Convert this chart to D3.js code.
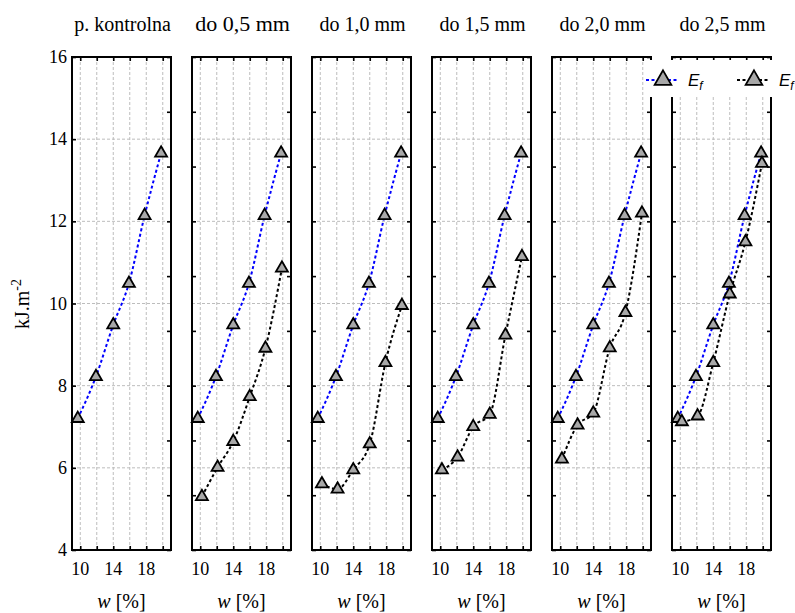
<!DOCTYPE html>
<html><head><meta charset="utf-8">
<script src="https://cdn.jsdelivr.net/npm/d3@7"></script>
</head><body style="margin:0">
<svg id="c" width="795" height="613" style="font-family:'Liberation Serif'"></svg>
<script>
const panelTitles = ["p. kontrolna","do 0,5 mm","do 1,0 mm","do 1,5 mm","do 2,0 mm","do 2,5 mm"];
const blueX = [9.7, 11.9, 14.0, 15.9, 17.8, 19.8];
const blueY = [7.2, 8.22, 9.48, 10.49, 12.14, 13.66];
const blackX = [10.2, 12.1, 14.0, 16.0, 17.9, 19.9];
const black05 = [5.30, 6.01, 6.64, 7.73, 8.91, 10.86];
const black10 = [5.61, 5.48, 5.95, 6.58, 8.56, 9.95];
const black15 = [5.95, 6.26, 7.00, 7.30, 9.23, 11.14];
const black20 = [6.21, 7.04, 7.33, 8.92, 9.78, 12.20];
const black25 = [7.12, 7.26, 8.56, 10.23, 11.50, 13.41];
const blackSeries = [null, black05, black10, black15, black20, black25];
const yTicks = [4, 6, 8, 10, 12, 14, 16];
const xTickLabels = [10, 14, 18];
const xGrid = [10, 12, 14, 16, 18, 20];
const legendLabels = ["E", "E"];

const svg = d3.select("#c");
const topY = 57, bottomY = 550, pw = 99, gap = 120, left0 = 72;
const y = d3.scaleLinear().domain([4, 16]).range([bottomY, topY]);
const y2 = d3.scaleLinear().domain([0, 9]).range([bottomY, topY]);
const serifStyle = sz => `font-family:'Liberation Serif' !important;font-size:${sz}px`;

function tri(g, cx, cy, s) {
  g.append("path").attr("transform", `translate(${cx},${cy})`)
    .attr("d", d3.symbol().type(d3.symbolTriangle).size(s)())
    .attr("fill", "#a8a8a8").attr("stroke", "#000").attr("stroke-width", 1.8);
}

panelTitles.forEach((title, i) => {
  const x0 = left0 + i * gap;
  const x = d3.scaleLinear().domain([9, 21]).range([x0, x0 + pw]);
  const g = svg.append("g");
  g.selectAll(".gx").data(xGrid).join("line")
    .attr("x1", d => x(d)).attr("x2", d => x(d)).attr("y1", topY).attr("y2", bottomY)
    .attr("stroke", "#bdbdbd").attr("stroke-width", 1).attr("stroke-dasharray", "3,2");
  g.selectAll(".gy").data(yTicks.slice(1, -1)).join("line")
    .attr("x1", x0).attr("x2", x0 + pw).attr("y1", d => y(d)).attr("y2", d => y(d))
    .attr("stroke", "#bdbdbd").attr("stroke-width", 1).attr("stroke-dasharray", "3,2");
  const bAx = g.append("g").attr("transform", `translate(0,${bottomY})`)
    .call(d3.axisTop(x).tickValues(xGrid).tickSize(4).tickFormat(""));
  const tAx = g.append("g").attr("transform", `translate(0,${topY})`)
    .call(d3.axisBottom(x).tickValues(xGrid).tickSize(4).tickFormat(""));
  const lAx = g.append("g").attr("transform", `translate(${x0},0)`)
    .call(i === 0 ? d3.axisRight(y).tickValues(yTicks).tickSize(4).tickFormat("")
                  : d3.axisRight(y2).ticks(9).tickSize(4).tickFormat(""));
  const rAx = g.append("g").attr("transform", `translate(${x0 + pw},0)`)
    .call(d3.axisLeft(y2).ticks(9).tickSize(4).tickFormat(""));
  [bAx, tAx, lAx, rAx].forEach(a => {
    a.select(".domain").remove();
    a.selectAll("line").attr("stroke", "#000").attr("stroke-width", 1.6);
  });
  g.append("rect").attr("x", x0).attr("y", topY).attr("width", pw).attr("height", bottomY - topY)
    .attr("fill", "none").attr("stroke", "#000").attr("stroke-width", 2);
  g.selectAll(".xl").data(xTickLabels).join("text")
    .attr("x", d => x(d)).attr("y", 575).attr("text-anchor", "middle")
    .attr("style", serifStyle(18)).text(d => d);
  const xt = g.append("text").attr("x", x0 + pw / 2).attr("y", 608)
    .attr("text-anchor", "middle").attr("style", serifStyle(20));
  xt.append("tspan").attr("style", "font-style:italic").text("w");
  xt.append("tspan").text(" [%]");
  g.append("text").attr("x", x0 + pw / 2 + 1).attr("y", 31).attr("text-anchor", "middle")
    .attr("style", serifStyle(i === 1 ? 22 : 20)).text(title);

  const line = d3.line().curve(d3.curveMonotoneX);
  const bs = blackSeries[i];
  if (bs) {
    const pts = blackX.map((v, k) => [x(v), y(bs[k])]);
    g.append("path").attr("d", line(pts)).attr("fill", "none").attr("stroke", "#000")
      .attr("stroke-width", 2).attr("stroke-dasharray", "3,2.5");
  }
  const bp = blueX.map((v, k) => [x(v), y(blueY[k])]);
  g.append("path").attr("d", line(bp)).attr("fill", "none").attr("stroke", "#0000ff")
    .attr("stroke-width", 2).attr("stroke-dasharray", "3,2.5");
  bp.forEach(p => tri(g, p[0], p[1], 62));
  if (bs) blackX.forEach((v, k) => tri(g, x(v), y(bs[k]), 62));
});

svg.selectAll(".yl").data(yTicks).join("text")
  .attr("x", 67).attr("y", d => y(d) + 6).attr("text-anchor", "end")
  .attr("style", serifStyle(18)).text(d => d);
const yt = svg.append("text").attr("transform", "translate(29,304) rotate(-90)")
  .attr("text-anchor", "middle").attr("style", serifStyle(20));
yt.append("tspan").text("kJ.m");
yt.append("tspan").attr("style", "font-size:14px").attr("dy", -8).text("-2");

const lg = svg.append("g");
lg.append("rect").attr("x", 646).attr("y", 60).attr("width", 149).attr("height", 37).attr("fill", "#fff");
const items = [{c: "#0000ff", x: 646}, {c: "#000", x: 737}];
items.forEach((it, k) => {
  lg.append("line").attr("x1", it.x).attr("x2", it.x + 33).attr("y1", 80).attr("y2", 80)
    .attr("stroke", it.c).attr("stroke-width", 2).attr("stroke-dasharray", "3,2.5");
  tri(lg, it.x + 17, 80, 120);
  const t = lg.append("text").attr("x", it.x + 42).attr("y", 86)
    .attr("style", "font-family:'Liberation Sans' !important;font-size:17px;font-style:italic");
  t.append("tspan").text(legendLabels[k]);
  t.append("tspan").attr("style", "font-size:12px").attr("dy", 4).text("f");
});
</script>
</body></html>
